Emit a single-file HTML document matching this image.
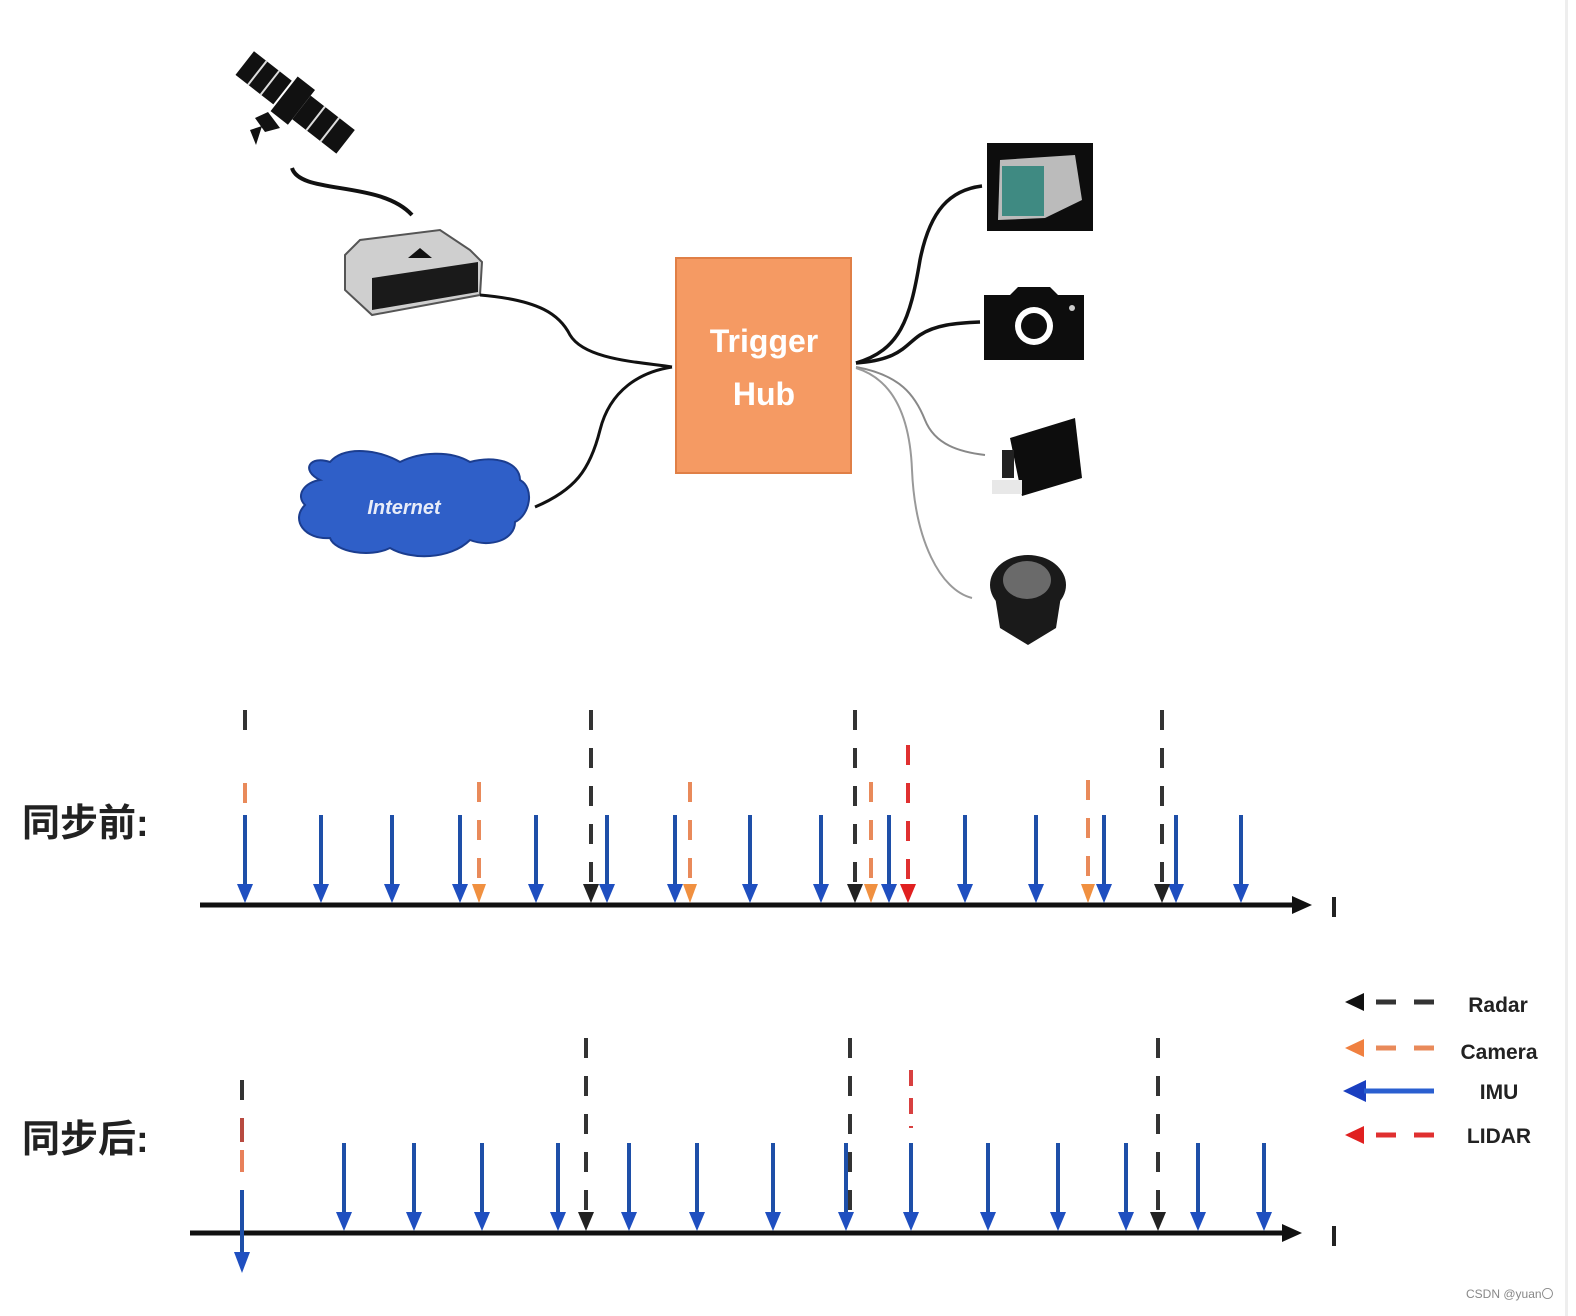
<!DOCTYPE html>
<html><head><meta charset="utf-8"><style>
html,body{margin:0;padding:0;background:#fff;}
svg{display:block}
</style></head><body>
<svg width="1576" height="1316" viewBox="0 0 1576 1316" xmlns="http://www.w3.org/2000/svg">
<rect width="1576" height="1316" fill="#fff"/>
<!-- satellite -->
<g transform="translate(292,100) rotate(38)">
  <rect x="-60" y="-15" width="48" height="30" fill="#111"/>
  <rect x="12" y="-15" width="56" height="30" fill="#111"/>
  <line x1="-44" y1="-15" x2="-44" y2="15" stroke="#ddd" stroke-width="2"/>
  <line x1="-28" y1="-15" x2="-28" y2="15" stroke="#ddd" stroke-width="2"/>
  <line x1="30" y1="-15" x2="30" y2="15" stroke="#ddd" stroke-width="2"/>
  <line x1="48" y1="-15" x2="48" y2="15" stroke="#ddd" stroke-width="2"/>
  <rect x="-10" y="-22" width="22" height="44" fill="#111"/>
</g>
<path d="M255,118 L268,112 L280,128 L265,132 Z M250,130 L262,126 L256,145 Z" fill="#111"/>
<!-- antenna cable -->
<path d="M292,168 C300,195 380,180 412,215" fill="none" stroke="#111" stroke-width="4"/>
<!-- GPS box -->
<path d="M345,255 L360,240 L440,230 L470,250 L482,262 L480,295 L372,315 L345,290 Z" fill="#cfcfcf" stroke="#555" stroke-width="2"/>
<path d="M372,278 L478,262 L478,292 L372,310 Z" fill="#1a1a1a"/>
<path d="M408,258 L420,248 L432,258 Z" fill="#111"/>
<!-- cable gps to hub -->
<path d="M480,295 C540,300 560,315 570,335 C585,360 640,362 672,367" fill="none" stroke="#111" stroke-width="3"/>
<!-- cloud -->
<path d="M320,480 C300,470 310,455 330,462 C345,445 380,450 400,462 C420,452 450,450 470,462 C495,455 520,462 520,480 C535,488 530,515 515,522 C515,540 490,548 470,540 C450,560 410,560 390,548 C370,558 335,552 330,538 C305,540 290,520 305,505 C295,495 305,482 320,480 Z" fill="#2f5fc8" stroke="#1b3d8f" stroke-width="2"/>
<text x="404" y="514" text-anchor="middle" font-family="Liberation Sans, sans-serif" font-size="20" font-weight="bold" font-style="italic" fill="#e8ecf8">Internet</text>
<path d="M535,507 C575,490 590,470 600,430 C610,390 640,372 672,367" fill="none" stroke="#111" stroke-width="3"/>
<!-- hub -->
<rect x="676" y="258" width="175" height="215" fill="#f59a63" stroke="#e07f46" stroke-width="2"/>
<text x="764" y="352" text-anchor="middle" font-family="Liberation Sans, sans-serif" font-size="32" font-weight="bold" fill="#fff">Trigger</text>
<text x="764" y="405" text-anchor="middle" font-family="Liberation Sans, sans-serif" font-size="32" font-weight="bold" fill="#fff">Hub</text>
<!-- right cables -->
<path d="M856,363 C900,350 910,320 920,260 C930,210 950,190 982,186" fill="none" stroke="#111" stroke-width="3.5"/>
<path d="M856,363 C900,360 905,345 920,335 C935,325 955,323 980,322" fill="none" stroke="#111" stroke-width="3.5"/>
<path d="M856,367 C900,375 915,395 925,420 C935,445 960,452 985,455" fill="none" stroke="#888" stroke-width="2"/>
<path d="M856,368 C895,380 910,420 912,470 C915,540 940,590 972,598" fill="none" stroke="#999" stroke-width="2"/>
<!-- monitor -->
<rect x="987" y="143" width="106" height="88" fill="#0d0d0d"/>
<path d="M1000,160 L1075,155 L1082,200 L1045,218 L998,220 Z" fill="#bbb"/>
<rect x="1002" y="166" width="42" height="50" fill="#3f8a82"/>
<!-- camera -->
<path d="M984,295 L1010,295 L1018,287 L1050,287 L1058,295 L1084,295 L1084,360 L984,360 Z" fill="#0d0d0d"/>
<circle cx="1034" cy="326" r="19" fill="#fff"/>
<circle cx="1034" cy="326" r="13" fill="#0d0d0d"/>
<circle cx="1072" cy="308" r="3" fill="#ccc"/>
<!-- lidar -->
<path d="M1010,438 L1075,418 L1082,478 L1022,496 Z" fill="#0d0d0d"/>
<rect x="992" y="480" width="30" height="14" fill="#e8e8e8"/>
<rect x="1002" y="450" width="12" height="28" fill="#222"/>
<!-- radar speaker -->
<ellipse cx="1028" cy="585" rx="38" ry="30" fill="#1a1a1a"/>
<path d="M994,590 L1000,628 L1028,645 L1056,628 L1062,590 Z" fill="#1a1a1a"/>
<ellipse cx="1027" cy="580" rx="24" ry="19" fill="#6a6a6a"/>

<!-- Timeline 1 -->
<text x="22" y="836" font-family="Liberation Sans, 'Noto Sans CJK SC', sans-serif" font-size="38" font-weight="bold" fill="#222">同步前:</text>
<line x1="200" y1="905" x2="1296" y2="905" stroke="#111" stroke-width="5"/>
<polygon points="1292,896 1312,905 1292,914" fill="#111"/>
<rect x="1332" y="897" width="4" height="20" fill="#222"/>
<g stroke-width="4" fill="none">
 <g stroke="#1e4fa8">
  <line x1="245" y1="815" x2="245" y2="886"/><line x1="321" y1="815" x2="321" y2="886"/><line x1="392" y1="815" x2="392" y2="886"/><line x1="460" y1="815" x2="460" y2="886"/><line x1="536" y1="815" x2="536" y2="886"/><line x1="607" y1="815" x2="607" y2="886"/><line x1="675" y1="815" x2="675" y2="886"/><line x1="750" y1="815" x2="750" y2="886"/><line x1="821" y1="815" x2="821" y2="886"/><line x1="889" y1="815" x2="889" y2="886"/><line x1="965" y1="815" x2="965" y2="886"/><line x1="1036" y1="815" x2="1036" y2="886"/><line x1="1104" y1="815" x2="1104" y2="886"/><line x1="1176" y1="815" x2="1176" y2="886"/><line x1="1241" y1="815" x2="1241" y2="886"/>
 </g>
 <g stroke="#333" stroke-dasharray="20,18">
  <line x1="591" y1="710" x2="591" y2="886"/><line x1="855" y1="710" x2="855" y2="886"/><line x1="1162" y1="710" x2="1162" y2="886"/>
  <line x1="245" y1="710" x2="245" y2="730"/>
 </g>
 <g stroke="#e98a5a" stroke-dasharray="20,18">
  <line x1="479" y1="782" x2="479" y2="886"/><line x1="690" y1="782" x2="690" y2="886"/><line x1="871" y1="782" x2="871" y2="886"/><line x1="1088" y1="780" x2="1088" y2="886"/><line x1="245" y1="783" x2="245" y2="806"/>
 </g>
 <g stroke="#e03030" stroke-dasharray="20,18">
  <line x1="908" y1="745" x2="908" y2="886"/>
 </g>
</g>
<g fill="#1f4fc0">
 <polygon points="237,884 253,884 245,903"/><polygon points="313,884 329,884 321,903"/><polygon points="384,884 400,884 392,903"/><polygon points="452,884 468,884 460,903"/><polygon points="528,884 544,884 536,903"/><polygon points="599,884 615,884 607,903"/><polygon points="667,884 683,884 675,903"/><polygon points="742,884 758,884 750,903"/><polygon points="813,884 829,884 821,903"/><polygon points="881,884 897,884 889,903"/><polygon points="957,884 973,884 965,903"/><polygon points="1028,884 1044,884 1036,903"/><polygon points="1096,884 1112,884 1104,903"/><polygon points="1168,884 1184,884 1176,903"/><polygon points="1233,884 1249,884 1241,903"/>
</g>
<g fill="#222"><polygon points="583,884 599,884 591,903"/><polygon points="847,884 863,884 855,903"/><polygon points="1154,884 1170,884 1162,903"/></g>
<g fill="#f09040"><polygon points="472,884 486,884 479,903"/><polygon points="683,884 697,884 690,903"/><polygon points="864,884 878,884 871,903"/><polygon points="1081,884 1095,884 1088,903"/></g>
<polygon points="900,884 916,884 908,903" fill="#e02020"/>

<!-- Timeline 2 -->
<text x="22" y="1152" font-family="Liberation Sans, 'Noto Sans CJK SC', sans-serif" font-size="38" font-weight="bold" fill="#222">同步后:</text>
<line x1="190" y1="1233" x2="1286" y2="1233" stroke="#111" stroke-width="5"/>
<polygon points="1282,1224 1302,1233 1282,1242" fill="#111"/>
<rect x="1332" y="1226" width="4" height="20" fill="#222"/>
<g stroke-width="4" fill="none">
 <g stroke="#1e4fa8">
  <line x1="344" y1="1143" x2="344" y2="1214"/><line x1="414" y1="1143" x2="414" y2="1214"/><line x1="482" y1="1143" x2="482" y2="1214"/><line x1="558" y1="1143" x2="558" y2="1214"/><line x1="629" y1="1143" x2="629" y2="1214"/><line x1="697" y1="1143" x2="697" y2="1214"/><line x1="773" y1="1143" x2="773" y2="1214"/><line x1="846" y1="1143" x2="846" y2="1214"/><line x1="911" y1="1143" x2="911" y2="1214"/><line x1="988" y1="1143" x2="988" y2="1214"/><line x1="1058" y1="1143" x2="1058" y2="1214"/><line x1="1126" y1="1143" x2="1126" y2="1214"/><line x1="1198" y1="1143" x2="1198" y2="1214"/><line x1="1264" y1="1143" x2="1264" y2="1214"/>
  <line x1="242" y1="1190" x2="242" y2="1254"/>
 </g>
 <g stroke="#333" stroke-dasharray="20,18">
  <line x1="586" y1="1038" x2="586" y2="1214"/><line x1="850" y1="1038" x2="850" y2="1214"/><line x1="1158" y1="1038" x2="1158" y2="1214"/>
  <line x1="242" y1="1080" x2="242" y2="1100"/>
 </g>
 <line x1="242" y1="1118" x2="242" y2="1142" stroke="#b84a40"/>
 <line x1="242" y1="1150" x2="242" y2="1172" stroke="#e8805a"/>
 <g stroke="#d84040" stroke-dasharray="16,12"><line x1="911" y1="1070" x2="911" y2="1128"/></g>
</g>
<g fill="#1f4fc0">
 <polygon points="336,1212 352,1212 344,1231"/><polygon points="406,1212 422,1212 414,1231"/><polygon points="474,1212 490,1212 482,1231"/><polygon points="550,1212 566,1212 558,1231"/><polygon points="621,1212 637,1212 629,1231"/><polygon points="689,1212 705,1212 697,1231"/><polygon points="765,1212 781,1212 773,1231"/><polygon points="838,1212 854,1212 846,1231"/><polygon points="903,1212 919,1212 911,1231"/><polygon points="980,1212 996,1212 988,1231"/><polygon points="1050,1212 1066,1212 1058,1231"/><polygon points="1118,1212 1134,1212 1126,1231"/><polygon points="1190,1212 1206,1212 1198,1231"/><polygon points="1256,1212 1272,1212 1264,1231"/>
 <polygon points="234,1252 250,1252 242,1273"/>
</g>
<g fill="#222"><polygon points="578,1212 594,1212 586,1231"/><polygon points="1150,1212 1166,1212 1158,1231"/></g>

<!-- legend -->
<g stroke-width="5">
 <polygon points="1345,1002 1364,993 1364,1011" fill="#111"/>
 <line x1="1376" y1="1002" x2="1396" y2="1002" stroke="#333"/><line x1="1414" y1="1002" x2="1434" y2="1002" stroke="#333"/>
 <polygon points="1345,1048 1364,1039 1364,1057" fill="#f08040"/>
 <line x1="1376" y1="1048" x2="1396" y2="1048" stroke="#e98a5a"/><line x1="1414" y1="1048" x2="1434" y2="1048" stroke="#e98a5a"/>
 <polygon points="1343,1091 1366,1080 1366,1102" fill="#1a3fc0"/>
 <line x1="1364" y1="1091" x2="1434" y2="1091" stroke="#2a5fd0"/>
 <polygon points="1345,1135 1364,1126 1364,1144" fill="#e02020"/>
 <line x1="1376" y1="1135" x2="1396" y2="1135" stroke="#e03030"/><line x1="1414" y1="1135" x2="1434" y2="1135" stroke="#e03030"/>
</g>
<g font-family="Liberation Sans, sans-serif" font-size="21" font-weight="bold" fill="#222" text-anchor="middle">
 <text x="1498" y="1012">Radar</text>
 <text x="1499" y="1059">Camera</text>
 <text x="1499" y="1099">IMU</text>
 <text x="1499" y="1143">LIDAR</text>
</g>
<text x="1466" y="1298" font-family="Liberation Sans, sans-serif" font-size="12" fill="#888">CSDN @yuan〇</text>
<rect x="1565" y="0" width="3" height="1316" fill="#eee"/>
</svg>
</body></html>
